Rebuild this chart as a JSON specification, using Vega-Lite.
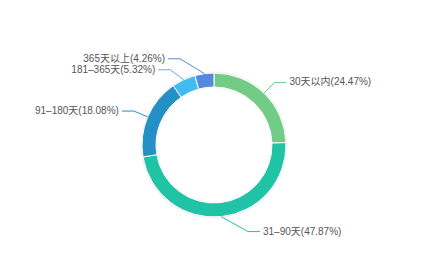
{
  "$schema": "https://vega.github.io/schema/vega-lite/v6.json",
  "width": 425,
  "height": 262,
  "padding": 0,
  "autosize": {"type": "fit", "contains": "padding"},
  "background": "#ffffff",
  "config": {"view": {"stroke": null}},
  "data": {
    "values": [
      {"category": "30天以内", "value": 24.47, "idx": 1},
      {"category": "31–90天", "value": 47.87, "idx": 2},
      {"category": "91–180天", "value": 18.08, "idx": 3},
      {"category": "181–365天", "value": 5.32, "idx": 4},
      {"category": "365天以上", "value": 4.26, "idx": 5}
    ]
  },
  "transform": [
    {"joinaggregate": [{"op": "sum", "field": "value", "as": "total"}]},
    {"window": [{"op": "sum", "field": "value", "as": "cum"}], "sort": [{"field": "idx"}], "frame": [null, 0]},
    {"calculate": "(datum.cum - datum.value / 2) / datum.total * 2 * PI", "as": "a"},
    {"calculate": "sin(datum.a) < 0 ? -1 : 1", "as": "dir"},
    {"calculate": "72 * sin(datum.a)", "as": "x0"},
    {"calculate": "72 * cos(datum.a)", "as": "y0"},
    {"calculate": "87 * cos(datum.a)", "as": "ey"},
    {"window": [{"op": "lag", "field": "ey", "as": "prevEy"}], "groupby": ["dir"], "sort": [{"field": "ey", "order": "descending"}]},
    {"calculate": "datum.prevEy != null && datum.prevEy - datum.ey < 11 ? datum.prevEy - 11 : datum.ey", "as": "y1"},
    {"calculate": "datum.dir * max(sqrt(max(87 * 87 - datum.y1 * datum.y1, 0)), 34)", "as": "x1"},
    {"calculate": "datum.x1 + datum.dir * 12", "as": "x2"},
    {"calculate": "datum.x2 + datum.dir * 3", "as": "xt"},
    {"calculate": "datum.category + '(' + format(datum.value, '.2f') + '%)'", "as": "label"}
  ],
  "layer": [
    {
      "mark": {"type": "arc", "innerRadius": 57, "outerRadius": 73.5, "color": "#000000", "opacity": 0.05},
      "encoding": {
        "theta": {"field": "value", "type": "quantitative", "stack": true},
        "order": {"field": "idx", "type": "quantitative"},
        "x": {"datum": 0, "type": "quantitative", "scale": {"domain": [-214, 211], "nice": false, "zero": false}, "axis": null},
        "y": {"datum": 0, "type": "quantitative", "scale": {"domain": [-117, 145], "nice": false, "zero": false}, "axis": null}
      }
    },
    {
      "mark": {"type": "arc", "innerRadius": 58, "outerRadius": 72, "stroke": "#ffffff", "strokeWidth": 1},
      "encoding": {
        "theta": {"field": "value", "type": "quantitative", "stack": true},
        "order": {"field": "idx", "type": "quantitative"},
        "color": {
          "field": "category", "type": "nominal", "legend": null,
          "scale": {"domain": ["30天以内", "31–90天", "91–180天", "181–365天", "365天以上"], "range": ["#72cc85", "#20c3a5", "#2490c5", "#40bcf0", "#5589e0"]}
        },
        "x": {"datum": 0, "type": "quantitative", "scale": {"domain": [-214, 211], "nice": false, "zero": false}, "axis": null},
        "y": {"datum": 0, "type": "quantitative", "scale": {"domain": [-117, 145], "nice": false, "zero": false}, "axis": null}
      }
    },
    {
      "mark": {"type": "rule", "strokeWidth": 1},
      "encoding": {
        "x": {"field": "x0", "type": "quantitative", "scale": {"domain": [-214, 211], "nice": false, "zero": false}, "axis": null},
        "y": {"field": "y0", "type": "quantitative", "scale": {"domain": [-117, 145], "nice": false, "zero": false}, "axis": null},
        "x2": {"field": "x1"},
        "y2": {"field": "y1"},
        "color": {"field": "category", "type": "nominal", "legend": null}
      }
    },
    {
      "mark": {"type": "rule", "strokeWidth": 1},
      "encoding": {
        "x": {"field": "x1", "type": "quantitative", "scale": {"domain": [-214, 211], "nice": false, "zero": false}, "axis": null},
        "y": {"field": "y1", "type": "quantitative", "scale": {"domain": [-117, 145], "nice": false, "zero": false}, "axis": null},
        "x2": {"field": "x2"},
        "y2": {"field": "y1"},
        "color": {"field": "category", "type": "nominal", "legend": null}
      }
    },
    {
      "transform": [{"filter": "datum.dir > 0"}],
      "mark": {"type": "text", "align": "left", "baseline": "middle", "fontSize": 10, "font": "Liberation Sans, Noto Sans CJK SC, sans-serif", "color": "#555555"},
      "encoding": {
        "x": {"field": "xt", "type": "quantitative", "scale": {"domain": [-214, 211], "nice": false, "zero": false}, "axis": null},
        "y": {"field": "y1", "type": "quantitative", "scale": {"domain": [-117, 145], "nice": false, "zero": false}, "axis": null},
        "text": {"field": "label"}
      }
    },
    {
      "transform": [{"filter": "datum.dir < 0"}],
      "mark": {"type": "text", "align": "right", "baseline": "middle", "fontSize": 10, "font": "Liberation Sans, Noto Sans CJK SC, sans-serif", "color": "#555555"},
      "encoding": {
        "x": {"field": "xt", "type": "quantitative", "scale": {"domain": [-214, 211], "nice": false, "zero": false}, "axis": null},
        "y": {"field": "y1", "type": "quantitative", "scale": {"domain": [-117, 145], "nice": false, "zero": false}, "axis": null},
        "text": {"field": "label"}
      }
    }
  ]
}
